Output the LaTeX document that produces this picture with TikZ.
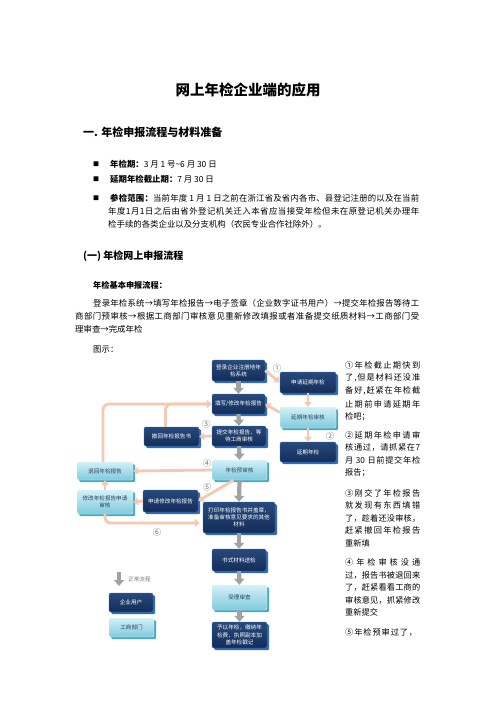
\documentclass[tikz,border=0pt]{standalone}
\usepackage{fontspec}
\setmainfont{Noto Sans CJK SC}
\usetikzlibrary{arrows.meta,shadows,calc}
\definecolor{dtop}{HTML}{27497C}
\definecolor{dbot}{HTML}{132D58}
\definecolor{dedge}{HTML}{4A6FA5}
\definecolor{dshadow}{HTML}{2F6CC0}
\definecolor{ltop}{HTML}{D3F0F6}
\definecolor{lbot}{HTML}{7FCADC}
\definecolor{ledge}{HTML}{E6F6FA}
\definecolor{lshadow}{HTML}{47AAC2}
\definecolor{ltext}{HTML}{2E4260}
\definecolor{salmon}{HTML}{F6C8B1}
\definecolor{agray}{HTML}{A2A2A2}
\definecolor{cgray}{HTML}{7A7A7A}
\newcommand\myfs[1]{\fontsize{#1}{#1}\selectfont}
\ExplSyntaxOn
\NewDocumentCommand\spreadline{m m}
 { \makebox[#1][s]{ \tl_map_inline:nn {#2} { {##1}\hfil } \unskip } }
\ExplSyntaxOff
\tikzset{
  txt/.style={anchor=west, inner sep=0pt, font=\myfs{8.4}},
  rtxt/.style={anchor=west, inner sep=0pt, font=\myfs{8.2}},
  dbox/.style={rounded corners=2pt, top color=dtop, bottom color=dbot, draw=dedge, line width=0.4pt,
    text=white, font=\fontsize{5.6}{7.2}\selectfont, align=center, inner sep=0pt,
    drop shadow={shadow xshift=2.2pt, shadow yshift=-2.2pt, fill=dshadow, opacity=1}},
  lbox/.style={rounded corners=2pt, top color=ltop, bottom color=lbot, draw=ledge, line width=0.4pt,
    text=ltext, font=\fontsize{5.6}{7.2}\selectfont, align=center, inner sep=0pt,
    drop shadow={shadow xshift=2.2pt, shadow yshift=-2.2pt, fill=lshadow, opacity=1}},
  garrow/.style={draw=agray, line width=4.2pt, -{Triangle[width=10pt,length=6pt]}},
  sarrow/.style={draw=salmon, line width=2.8pt, -{Triangle[width=7.5pt,length=5pt]}},
  circnum/.style={inner sep=0pt, text=cgray, font=\myfs{8.5}},
}
\begin{document}
\begin{tikzpicture}[x=1pt,y=-1pt]
\fill[white] (0,0) rectangle (496,702);
\useasboundingbox (0,0) rectangle (496,702);

% ---------- text part ----------
\node[inner sep=0pt, font=\myfs{14.5}\bfseries] (title) at (248,90) {网上年检企业端的应用};
\node[txt, font=\myfs{11}\bfseries] (h1) at (83,132) {一. 年检申报流程与材料准备};

\node[txt, font=\myfs{6}] (b1) at (93,164) {■};
\node[txt] (b1t) at (110,164) {{\bfseries 年检期：}3 月 1 号{\char"7E}6 月 30 日};
\node[txt, font=\myfs{6}] (b2) at (93,179) {■};
\node[txt] (b2t) at (110,179) {{\bfseries 延期年检截止期：}7 月 30 日};
\node[txt, font=\myfs{6}] (b3) at (93,198) {■};
\node[txt] (b3a) at (110,198) {\spreadline{309pt}{{\bfseries 参}{\bfseries 检}{\bfseries 范}{\bfseries 围}{\bfseries ：}当前年度{ 1 }月{ 1 }日之前在浙江省及省内各市、县登记注册的以及在当前}};
\node[txt] (b3b) at (108,211) {\spreadline{311pt}{年度1月1日之后由省外登记机关迁入本省应当接受年检但未在原登记机关办理年}};
\node[txt] (b3c) at (108,224) {检手续的各类企业以及分支机构（农民专业合作社除外）。};

\node[txt, font=\myfs{10}\bfseries] (h2) at (83,256) {(一) 年检网上申报流程};
\node[txt, font=\myfs{8.2}\bfseries] (h3) at (93,285) {年检基本申报流程：};

\node[txt] (p1) at (93,303) {\spreadline{326pt}{登录年检系统→填写年检报告→电子签章（企业数字证书用户）→提交年检报告等待工}};
\node[txt] (p2) at (75,316) {\spreadline{344pt}{商部门预审核→根据工商部门审核意见重新修改填报或者准备提交纸质材料→工商部门受}};
\node[txt] (p3) at (75,329) {理审查→完成年检};
\node[txt] (fig) at (93,349) {图示：};

% ---------- right column ----------
\node[rtxt] (r1) at (345,365) {\spreadline{75pt}{① 年检截止期快到}};
\node[rtxt] (r2) at (345,378) {\spreadline{75pt}{了,但是材料还没准}};
\node[rtxt] (r3) at (345,391) {\spreadline{75pt}{备好,赶紧在年检截}};
\node[rtxt] (r4) at (345,404) {\spreadline{75pt}{止期前申请延期年}};
\node[rtxt] (r5) at (345,417) {检吧；};
\node[rtxt] (r6) at (345,435) {\spreadline{75pt}{② 延期年检申请审}};
\node[rtxt] (r7) at (345,447.5) {\spreadline{75pt}{核通过，请抓紧在 7}};
\node[rtxt] (r8) at (345,460) {\spreadline{75pt}{月{ 30 }日前提交年检}};
\node[rtxt] (r9) at (345,472.5) {报告；};
\node[rtxt] (r10) at (345,493) {\spreadline{75pt}{③ 刚交了年检报告}};
\node[rtxt] (r11) at (345,505.5) {\spreadline{75pt}{就发现有东西填错}};
\node[rtxt] (r12) at (345,518) {\spreadline{75pt}{了，趁着还没审核，}};
\node[rtxt] (r13) at (345,530.5) {\spreadline{75pt}{赶紧撤回年检报告}};
\node[rtxt] (r14) at (345,543) {重新填};
\node[rtxt] (r15) at (345,562) {\spreadline{75pt}{④ 年检审核没通}};
\node[rtxt] (r16) at (345,575) {\spreadline{75pt}{过，报告书被退回来}};
\node[rtxt] (r17) at (345,587.5) {\spreadline{75pt}{了，赶紧看看工商的}};
\node[rtxt] (r18) at (345,600) {\spreadline{75pt}{审核意见，抓紧修改}};
\node[rtxt] (r19) at (345,612.5) {重新提交};
\node[rtxt] (r20) at (345,632) {\spreadline{72pt}{⑤ 年检预审过了，}};

% ---------- flowchart boxes ----------
\node[dbox, minimum width=53pt, minimum height=21pt] (A) at (238.5,370.5) {登录企业注册地年\\检系统};
\node[dbox, minimum width=56pt, minimum height=21pt] (B) at (308,382.5) {申请延期年检};
\node[dbox, minimum width=53pt, minimum height=20pt] (C) at (238.5,404) {填写/修改年检报告};
\node[lbox, minimum width=56pt, minimum height=21pt] (D) at (308,417.5) {延期年检审核};
\node[dbox, minimum width=56pt, minimum height=20pt] (E) at (308,452) {延期年检};
\node[dbox, minimum width=54pt, minimum height=20pt] (F) at (239,436) {提交年检报告，等\\待工商审核};
\node[dbox, minimum width=55pt, minimum height=19pt] (G) at (171.5,436.5) {撤回年检报告书};
\node[lbox, minimum width=55pt, minimum height=20pt] (H) at (239.5,470) {年检预审核};
\node[lbox, minimum width=56pt, minimum height=18pt] (I) at (105,471) {退回年检报告};
\node[lbox, minimum width=56pt, minimum height=24pt] (J) at (105,502) {修改年检报告申请\\审核};
\node[dbox, minimum width=55pt, minimum height=22pt] (K) at (170.5,501) {申请修改年检报告};
\node[dbox, minimum width=72pt, minimum height=31pt] (L) at (239,517.5) {打印年检报告书并盖章，\\准备审核意见要求的其他\\材料};
\node[dbox, minimum width=54pt, minimum height=22pt] (M) at (239,560) {书式材料送检};
\node[lbox, minimum width=55pt, minimum height=25pt] (N) at (239.5,597.5) {受理审查};
\node[dbox, minimum width=55pt, minimum height=26pt] (O) at (239.5,635) {予以年检，缴纳年\\检费，执照副本加\\盖年检戳记};
\node[dbox, minimum width=44pt, minimum height=19pt] (P) at (131,602.5) {企业用户};
\node[lbox, minimum width=45pt, minimum height=19pt] (Q) at (131.5,627.5) {工商部门};

% legend
\coordinate (lg1) at (119,572);
\coordinate (lg2) at (119,586);
\draw[garrow] (lg1) -- (lg2);
\node[anchor=west, inner sep=0pt, text=cgray, font=\myfs{5.6}] (lgt) at (128,579) {正常流程};

% circled numbers
\node[circnum] (c1) at (277,368) {①};
\node[circnum] (c2) at (330,436) {②};
\node[circnum] (c3) at (206,424) {③};
\node[circnum] (c4) at (207,463) {④};
\node[circnum] (c5) at (207,487) {⑤};
\node[circnum] (c6) at (157,532) {⑥};

% gray (normal flow) arrows
\draw[garrow] (A.south) -- (C.north);
\draw[garrow] (C.south) -- (F.north);
\draw[garrow] (F.south) -- (H.north);
\draw[garrow] (H.south) -- (L.north);
\draw[garrow] (L.south) -- (M.north);
\draw[garrow] (M.south) -- (N.north);
\draw[garrow] (N.south) -- (O.north);

% salmon arrows
\draw[sarrow] (A.east) -- (B.west);
\draw[sarrow] (B.south) -- (D.north);
\draw[sarrow] ($(D.west)+(0,-5)$) -- (C.east);
\draw[sarrow] (D.south) -- (E.north);
\draw[sarrow] (F.west) -- (G.east);
\draw[sarrow, rounded corners=6pt] ($(I.north)+(-2,0)$) |- (C.west);
\draw[sarrow, rounded corners=6pt] ($(G.north)+(-6,0)$) |- (C.west);
\draw[sarrow] (H.west) -- (I.east);
\draw[sarrow] (J.north) -- (I.south);
\draw[sarrow] (K.west) -- (J.east);
\draw[sarrow] ($(H.south)+(-6,0)$) -- (K.east);
\draw[sarrow, rounded corners=6pt] (J.south) |- ($(L.west)+(-3,5.5)$);
\end{tikzpicture}
\end{document}
